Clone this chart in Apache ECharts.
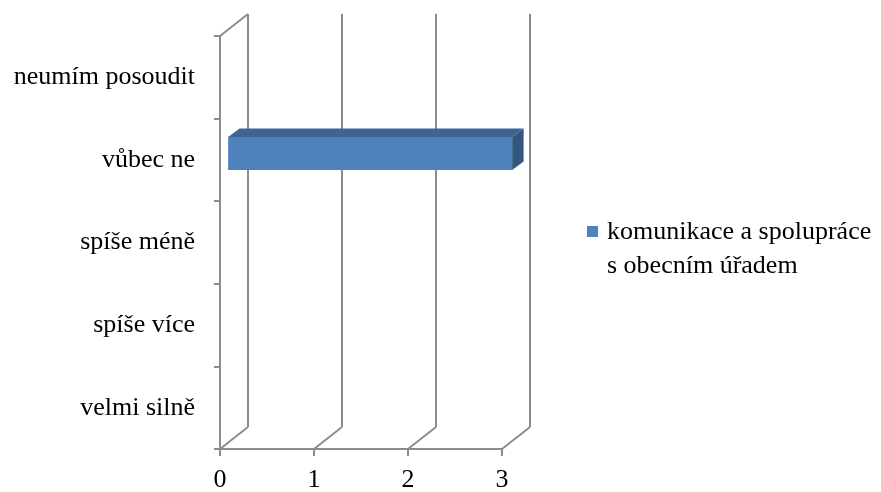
<!DOCTYPE html>
<html>
<head>
<meta charset="utf-8">
<script src="https://cdn.jsdelivr.net/npm/echarts@6/dist/echarts.min.js"></script>
<style>html,body{margin:0;padding:0;background:#fff}#c{width:881px;height:492px}</style>
</head>
<body>
<div id="c"></div>
<script>
const categories = ['velmi silně', 'spíše více', 'spíše méně', 'vůbec ne', 'neumím posoudit'];
const values = [0, 0, 0, 3, 0];
const xTicks = [0, 1, 2, 3];
const seriesName = 'komunikace a spolupráce s obecním úřadem';
const legendLines = ['komunikace a spolupráce', 's obecním úřadem'];

const DX = 28, DY = 22;
const LINE = '#8c8c8c';
const FONT = 'Liberation Serif';
const FS = 26;
const FRONT = '#4f81bd', TOP = '#3c6494', SIDE = '#34577f';

const chart = echarts.init(document.getElementById('c'), null, {renderer: 'canvas'});

function wallsItem(params, api) {
  const cs = params.coordSys;
  const top = cs.y, bottom = cs.y + cs.height;
  const v = api.value(0);
  const x = api.coord([v, 0])[0];
  const st = {stroke: LINE, lineWidth: 2, fill: null};
  const children = [
    {type: 'line', shape: {x1: x + DX, y1: top - DY, x2: x + DX, y2: bottom - DY}, style: st},
    {type: 'line', shape: {x1: x, y1: bottom, x2: x + DX, y2: bottom - DY}, style: st}
  ];
  if (v === 0) {
    children.push({type: 'line', shape: {x1: x, y1: top, x2: x + DX, y2: top - DY}, style: st});
  }
  return {type: 'group', silent: true, children: children};
}

function barItem(params, api) {
  const v = api.value(0);
  const c = api.value(1);
  if (!v) return null;
  const p0 = api.coord([0, c]);
  const p1 = api.coord([v, c]);
  const band = api.size([0, 1])[1];
  const h = band * 0.4;
  const fx = DX * 0.29, fy = DY * 0.29, bx = DX * 0.7, by = DY * 0.68;
  const x0 = p0[0], x1 = p1[0] + 2;
  const yT = p0[1] - h / 2, yB = p0[1] + h / 2;
  return {type: 'group', children: [
    {type: 'polygon', shape: {points: [[x0 + fx, yT - fy], [x1 + fx, yT - fy], [x1 + bx, yT - by], [x0 + bx, yT - by]]}, style: {fill: TOP}},
    {type: 'polygon', shape: {points: [[x1 + fx, yT - fy], [x1 + bx, yT - by], [x1 + bx, yB - by], [x1 + fx, yB - fy]]}, style: {fill: SIDE}},
    {type: 'rect', shape: {x: x0 + fx, y: yT - fy, width: x1 - x0, height: h}, style: {fill: FRONT}}
  ]};
}

const option = {
  animation: false,
  grid: {left: 220, top: 36, width: 282, height: 413, containLabel: false, outerBoundsMode: 'none'},
  xAxis: {
    type: 'value', min: 0, max: 3, interval: 1,
    axisLine: {show: true, lineStyle: {color: LINE, width: 2}},
    axisTick: {show: true, length: 7, lineStyle: {color: LINE, width: 2}},
    splitLine: {show: false},
    axisLabel: {fontFamily: FONT, fontSize: FS, color: '#000', margin: 18}
  },
  yAxis: {
    type: 'category', data: categories,
    axisLine: {show: true, lineStyle: {color: LINE, width: 2}},
    axisTick: {show: true, length: 6, interval: 0, lineStyle: {color: LINE, width: 2}},
    splitLine: {show: false},
    axisLabel: {fontFamily: FONT, fontSize: FS, color: '#000', margin: 25, interval: 0}
  },
  series: [
    {type: 'custom', name: 'walls', renderItem: wallsItem, data: xTicks.map(v => [v, categories[0]]), encode: {x: 0, y: 1}, z: 1, silent: true},
    {type: 'custom', name: seriesName, renderItem: barItem, data: values.map((v, i) => [v, i]), encode: {x: 0, y: 1}, z: 5}
  ],
  graphic: [
    {type: 'rect', left: 587, top: 226, shape: {width: 11, height: 11}, style: {fill: FRONT}},
    {type: 'text', x: 607, y: 249, style: {text: legendLines.join('\n'), font: FS + 'px "Liberation Serif"', lineHeight: 34, fill: '#000', verticalAlign: 'middle', align: 'left'}}
  ]
};
chart.setOption(option);
</script>
</body>
</html>
